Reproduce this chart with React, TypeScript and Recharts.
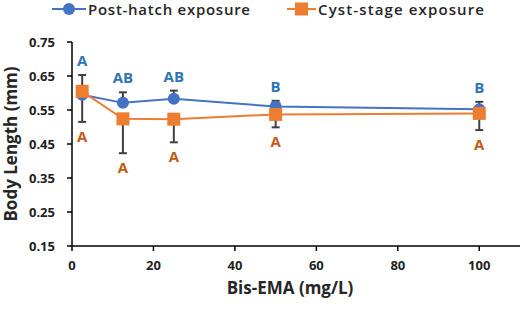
import React from "react";
import {
  LineChart,
  Line,
  XAxis,
  YAxis,
  ErrorBar,
  LabelList,
  Label
} from "recharts";

// Bis-EMA dose (mg/L)
const doses = [2.5, 12.5, 25, 50, 100];

// body length (mm), mean and one-sided error
const postHatch = [0.595, 0.571, 0.583, 0.56, 0.552];
const postHatchErr = [0.058, 0.031, 0.024, 0.017, 0.022];
const cystStage = [0.605, 0.524, 0.523, 0.537, 0.54];
const cystStageErr = [0.09, 0.101, 0.068, 0.038, 0.049];

// significance letters
const postHatchLetters = ["A", "AB", "AB", "B", "B"];
const cystStageLetters = ["A", "A", "A", "A", "A"];

const xTicks = [0, 20, 40, 60, 80, 100];
const yTicks = [0.15, 0.25, 0.35, 0.45, 0.55, 0.65, 0.75];

const BLUE = "#4472C4";
const ORANGE = "#ED7D31";
const FONT = "'Open Sans', sans-serif";

const data = doses.map((d, i) => ({
  x: d,
  post: postHatch[i],
  postErr: [0, postHatchErr[i]],
  postTop: postHatch[i] + postHatchErr[i],
  postLetter: postHatchLetters[i],
  cyst: cystStage[i],
  cystErr: [cystStageErr[i], 0],
  cystBottom: cystStage[i] - cystStageErr[i],
  cystLetter: cystStageLetters[i]
}));

const tickStyle = { fontSize: 13, fontWeight: 700, fill: "#222", fontFamily: FONT };

const SquareDot = (props: any) => {
  const { cx, cy } = props;
  if (cx == null || cy == null) return null;
  return <rect x={cx - 6.5} y={cy - 6.5} width={13} height={13} fill={ORANGE} />;
};

function LegendBar() {
  return (
    <svg width={520} height={26} style={{ position: "absolute", left: 0, top: 0 }}>
      <line x1={52} y1={9} x2={86} y2={9} stroke={BLUE} strokeWidth={2} />
      <circle cx={69} cy={9} r={6} fill={BLUE} />
      <line x1={287} y1={9} x2={316} y2={9} stroke={ORANGE} strokeWidth={2} />
      <rect x={295} y={2.5} width={13} height={13} fill={ORANGE} />
      <text
        x={88}
        y={15}
        textLength={162}
        fontFamily={FONT}
        fontSize={15}
        fontWeight={600}
        fill="#262626"
      >
        Post-hatch exposure
      </text>
      <text
        x={318}
        y={15}
        textLength={166}
        fontFamily={FONT}
        fontSize={15}
        fontWeight={600}
        fill="#262626"
      >
        Cyst-stage exposure
      </text>
    </svg>
  );
}

export default function App() {
  return (
    <div style={{ position: "absolute", left: 0, top: 0, width: 520, height: 309, background: "#fff" }}>
      <LineChart
        width={520}
        height={309}
        data={data}
        margin={{ top: 42, right: 0, bottom: 0, left: 0 }}
        style={{ fontFamily: FONT }}
      >
        <XAxis
          type="number"
          dataKey="x"
          domain={[0, 110]}
          ticks={xTicks}
          height={63}
          tick={tickStyle}
          tickSize={5}
          tickMargin={10}
          axisLine={{ stroke: "#000", strokeWidth: 1.5 }}
          tickLine={{ stroke: "#000", strokeWidth: 1.5 }}
        >
          <Label
            content={() => (
              <text
                x={290}
                y={294}
                textAnchor="middle"
                fontFamily={FONT}
                fontSize={17}
                fontWeight={700}
                fill="#262626"
              >
                Bis-EMA (mg/L)
              </text>
            )}
          />
        </XAxis>
        <YAxis
          type="number"
          domain={[0.15, 0.75]}
          ticks={yTicks}
          width={72}
          tick={tickStyle}
          tickSize={5}
          tickMargin={12}
          tickFormatter={(v: number) => v.toFixed(2)}
          axisLine={{ stroke: "#000", strokeWidth: 1.5 }}
          tickLine={{ stroke: "#000", strokeWidth: 1.5 }}
          allowDataOverflow
        >
          <Label
            content={() => (
              <text
                x={17}
                y={144}
                transform="rotate(-90 17 144)"
                textAnchor="middle"
                fontFamily={FONT}
                fontSize={17}
                fontWeight={700}
                fill="#262626"
              >
                Body Length (mm)
              </text>
            )}
          />
        </YAxis>

        <Line
          dataKey="post"
          stroke={BLUE}
          strokeWidth={2}
          dot={{ r: 6, fill: BLUE, stroke: BLUE, strokeWidth: 0 }}
          activeDot={false}
          isAnimationActive={false}
        >
          <ErrorBar dataKey="postErr" direction="y" stroke="#404040" strokeWidth={2} width={4} />
        </Line>
        <Line
          dataKey="cyst"
          stroke={ORANGE}
          strokeWidth={2}
          dot={<SquareDot />}
          activeDot={false}
          isAnimationActive={false}
        >
          <ErrorBar dataKey="cystErr" direction="y" stroke="#404040" strokeWidth={2} width={4} />
        </Line>

        <Line
          dataKey="postTop"
          stroke="none"
          dot={false}
          activeDot={false}
          legendType="none"
          isAnimationActive={false}
        >
          <LabelList
            dataKey="postLetter"
            position="top"
            offset={9}
            fill="#2E75B6"
            fontSize={15}
            fontWeight={700}
            fontFamily={FONT}
          />
        </Line>
        <Line
          dataKey="cystBottom"
          stroke="none"
          dot={false}
          activeDot={false}
          legendType="none"
          isAnimationActive={false}
        >
          <LabelList
            dataKey="cystLetter"
            position="bottom"
            offset={9}
            fill="#C55A11"
            fontSize={15}
            fontWeight={700}
            fontFamily={FONT}
          />
        </Line>
      </LineChart>
      <LegendBar />
    </div>
  );
}
